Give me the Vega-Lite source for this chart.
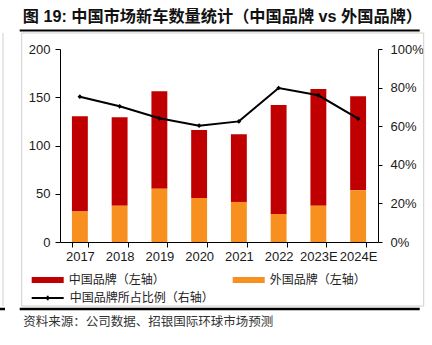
{
  "$schema": "https://vega.github.io/schema/vega-lite/v6.json",
  "width": 318,
  "height": 193,
  "autosize": {"type": "none"},
  "padding": {"left": 60, "top": 49, "right": 54, "bottom": 103},
  "background": "white",
  "config": {"view": {"stroke": null}, "font": "Liberation Sans"},
  "resolve": {"scale": {"y": "independent"}},
  "layer": [
    {
      "data": {"values": [{}]},
      "mark": {"type": "rect", "fill": null, "stroke": "#cfcfcf", "strokeWidth": 1},
      "encoding": {
        "x": {"value": -38.3}, "x2": {"value": 363.7},
        "y": {"value": -16}, "y2": {"value": 257}
      }
    },
    {
      "data": {"values": [{}]},
      "mark": {"type": "rule", "stroke": "#cfcfcf", "strokeWidth": 1},
      "encoding": {
        "x": {"value": -57}, "y": {"value": -16}, "y2": {"value": 257}
      }
    },
    {
      "data": {"values": [{}]},
      "mark": {"type": "rule", "stroke": "#000000", "strokeWidth": 2},
      "encoding": {
        "x": {"value": -40.3}, "x2": {"value": 359.7}, "y": {"value": -18.5}
      }
    },
    {
      "data": {"values": [{}]},
      "mark": {"type": "rule", "stroke": "#000000", "strokeWidth": 2.5},
      "encoding": {
        "x": {"value": -40.3}, "x2": {"value": 359.7}, "y": {"value": 260}
      }
    },
    {
      "data": {"values": [{}]},
      "mark": {"type": "rule", "stroke": "#000000", "strokeWidth": 2.5},
      "encoding": {
        "x": {"value": -61}, "x2": {"value": -55}, "y": {"value": 260}
      }
    },
    {
      "data": {"values": [{"t": "图 19: 中国市场新车数量统计（中国品牌 vs 外国品牌）"}]},
      "mark": {"type": "text", "align": "left", "baseline": "middle", "font": "Liberation Sans, Noto Sans CJK SC", "fontSize": 16.2, "fontWeight": "bold", "color": "#111111"},
      "encoding": {
        "text": {"field": "t"},
        "x": {"value": -37.3}, "y": {"value": -32}
      }
    },
    {
      "data": {
        "values": [
          {"year": "2017", "brand": "中国品牌（左轴）", "ord": 1, "value": 98.6},
          {"year": "2017", "brand": "外国品牌（左轴）", "ord": 0, "value": 31.7},
          {"year": "2018", "brand": "中国品牌（左轴）", "ord": 1, "value": 91.6},
          {"year": "2018", "brand": "外国品牌（左轴）", "ord": 0, "value": 37.6},
          {"year": "2019", "brand": "中国品牌（左轴）", "ord": 1, "value": 101.0},
          {"year": "2019", "brand": "外国品牌（左轴）", "ord": 0, "value": 55.2},
          {"year": "2020", "brand": "中国品牌（左轴）", "ord": 1, "value": 70.4},
          {"year": "2020", "brand": "外国品牌（左轴）", "ord": 0, "value": 45.6},
          {"year": "2021", "brand": "中国品牌（左轴）", "ord": 1, "value": 70.1},
          {"year": "2021", "brand": "外国品牌（左轴）", "ord": 0, "value": 41.5},
          {"year": "2022", "brand": "中国品牌（左轴）", "ord": 1, "value": 113.0},
          {"year": "2022", "brand": "外国品牌（左轴）", "ord": 0, "value": 29.0},
          {"year": "2023E", "brand": "中国品牌（左轴）", "ord": 1, "value": 120.9},
          {"year": "2023E", "brand": "外国品牌（左轴）", "ord": 0, "value": 37.6},
          {"year": "2024E", "brand": "中国品牌（左轴）", "ord": 1, "value": 97.4},
          {"year": "2024E", "brand": "外国品牌（左轴）", "ord": 0, "value": 53.6}
        ]
      },
      "mark": {"type": "bar"},
      "encoding": {
        "x": {
          "field": "year", "type": "ordinal",
          "scale": {"domain": ["2017", "2018", "2019", "2020", "2021", "2022", "2023E", "2024E"], "paddingInner": 0.6, "paddingOuter": 0.3},
          "axis": {
            "labelAngle": 0, "labelFontSize": 13, "labelColor": "#1a1a1a", "labelPadding": 3,
            "domainColor": "#000000", "tickColor": "#000000", "tickSize": 5, "tickBand": "extent",
            "title": "资料来源：公司数据、招银国际环球市场预测",
            "titleFont": "Noto Sans CJK SC", "titleFontSize": 12.5, "titleFontWeight": "normal", "titleColor": "#333333",
            "titleX": -37.3, "titleY": 79, "titleAlign": "left", "titleBaseline": "middle", "titleAnchor": "start"
          }
        },
        "y": {
          "field": "value", "type": "quantitative", "stack": "zero",
          "scale": {"domain": [0, 200]},
          "axis": {
            "values": [0, 50, 100, 150, 200], "grid": false, "title": null, "labelOverlap": false,
            "labelFontSize": 13, "labelColor": "#1a1a1a", "labelPadding": 5,
            "domainColor": "#000000", "tickColor": "#000000", "tickSize": 5
          }
        },
        "color": {
          "field": "brand", "type": "nominal",
          "scale": {"domain": ["中国品牌（左轴）", "外国品牌（左轴）"], "range": ["#C00000", "#F7901E"]},
          "legend": {
            "title": null, "orient": "none", "legendX": -28.3, "legendY": 215,
            "direction": "horizontal", "columns": 2, "columnPadding": 67,
            "symbolType": "M-1,-0.18H1V0.18H-1Z", "symbolSize": 1024, "symbolStrokeWidth": 0,
            "labelFont": "Noto Sans CJK SC", "labelFontSize": 12, "labelColor": "#222222", "labelOffset": 5, "labelLimit": 200
          }
        },
        "order": {"field": "ord", "type": "quantitative"}
      }
    },
    {
      "data": {
        "values": [
          {"year": "2017", "ratio": 0.753},
          {"year": "2018", "ratio": 0.703},
          {"year": "2019", "ratio": 0.641},
          {"year": "2020", "ratio": 0.603},
          {"year": "2021", "ratio": 0.625},
          {"year": "2022", "ratio": 0.798},
          {"year": "2023E", "ratio": 0.76},
          {"year": "2024E", "ratio": 0.639}
        ]
      },
      "encoding": {
        "x": {"field": "year", "type": "ordinal"},
        "y": {
          "field": "ratio", "type": "quantitative",
          "scale": {"domain": [0, 1]},
          "axis": {
            "orient": "right", "values": [0, 0.2, 0.4, 0.6, 0.8, 1], "tickCount": 6, "format": ".0%", "grid": false, "title": null,
            "labelOverlap": false,
            "labelFontSize": 13, "labelColor": "#1a1a1a", "labelPadding": 8,
            "domainColor": "#000000", "tickColor": "#000000", "tickSize": 4
          }
        }
      },
      "layer": [
        {
          "mark": {"type": "line", "strokeWidth": 2},
          "encoding": {
            "stroke": {
              "datum": "中国品牌所占比例（右轴）",
              "scale": {"range": ["#000000"]},
              "legend": {
                "title": null, "orient": "none", "legendX": -29.3, "legendY": 232,
                "symbolType": "M-1,0H1M0,-0.14V0.14", "symbolSize": 1024, "symbolStrokeWidth": 2,
                "labelFont": "Noto Sans CJK SC", "labelFontSize": 12, "labelColor": "#222222", "labelOffset": 5, "labelLimit": 250
              }
            }
          }
        },
        {
          "mark": {"type": "point", "shape": "diamond", "filled": true, "size": 22, "color": "#000000", "opacity": 1}
        }
      ]
    }
  ]
}
